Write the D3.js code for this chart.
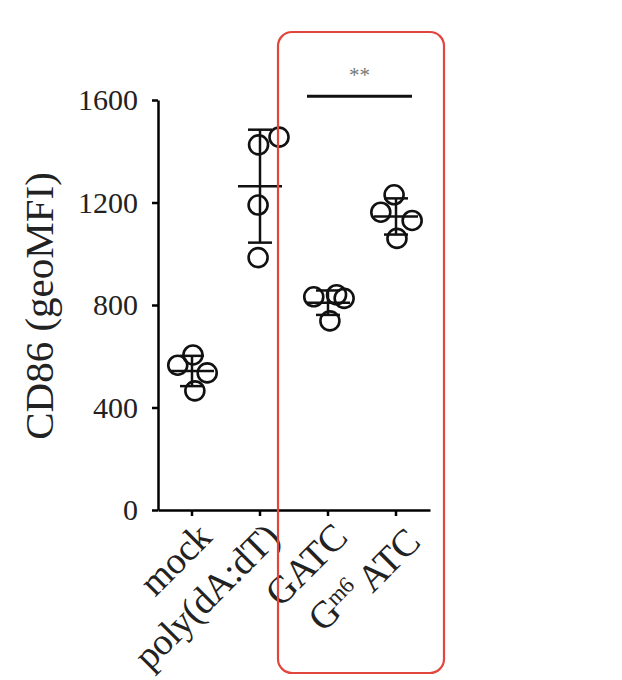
<!DOCTYPE html>
<html>
<head>
<meta charset="utf-8">
<script src="https://cdn.jsdelivr.net/npm/d3@7"></script>
<style>
  body { margin: 0; background: #fff; }
  svg { display: block; }
</style>
</head>
<body>
<div id="chart"></div>
<script>
// group names on the x axis
const categories = ["mock", "poly(dA:dT)", "GATC", "Gm6ATC"];

// CD86 geoMFI, one value per replicate
const mockValues = [605, 565, 535, 465];
const polyValues = [1455, 1425, 1190, 985];
const gatcValues = [832, 840, 826, 738];
const gm6Values  = [1230, 1162, 1130, 1060];

// sideways dodge of each dot (in dot radii), like the prism scatter layout
const mockDodge = [0.1, -1.5, 1.6, 0.3];
const polyDodge = [2.0, -0.15, -0.2, -0.2];
const gatcDodge = [-1.5, 0.9, 1.7, 0.2];
const gm6Dodge  = [-0.2, -1.6, 1.7, 0.1];

const yTicks = [0, 400, 800, 1200, 1600];
const sigPair = ["GATC", "Gm6ATC"];
const sigLevel = 1615;
const sigLabel = "**";

const groups = [
    {name: categories[0], values: mockValues, dodge: mockDodge},
    {name: categories[1], values: polyValues, dodge: polyDodge},
    {name: categories[2], values: gatcValues, dodge: gatcDodge},
    {name: categories[3], values: gm6Values, dodge: gm6Dodge}
];

var width = 622, height = 680;
var font = "'Liberation Serif', 'Times New Roman', serif";
var dotR = 9.5;

var svg = d3.select("#chart").append("svg")
    .attr("width", width)
    .attr("height", height);

var x = d3.scaleBand()
    .domain(categories)
    .range([158, 430]);

var y = d3.scaleLinear()
    .domain([0, 1600])
    .range([510, 100]);

// y axis
var yAxis = svg.append("g")
    .attr("transform", "translate(158,0)")
    .call(d3.axisLeft(y).tickValues(yTicks).tickFormat(d3.format("d"))
        .tickSize(6).tickSizeOuter(0).tickPadding(14));
yAxis.select(".domain").attr("stroke-width", 2.5);
yAxis.selectAll(".tick line").attr("stroke-width", 2.5);
yAxis.selectAll("text")
    .style("font-family", font)
    .style("font-size", "30px")
    .attr("fill", "#222");

// x axis
var xAxis = svg.append("g")
    .attr("transform", "translate(0,510)")
    .call(d3.axisBottom(x).tickSize(6).tickSizeOuter(0).tickFormat(""));
xAxis.select(".domain").attr("stroke-width", 2.5);
xAxis.selectAll(".tick line").attr("stroke-width", 2.5);

// rotated category labels
var labels = svg.append("g").selectAll("text")
    .data(categories)
    .enter()
    .append("text")
    .attr("transform", d => `translate(${x(d) + x.bandwidth() / 2 + 12}, 530) rotate(-45)`)
    .attr("text-anchor", "end")
    .attr("dy", "0.35em")
    .style("font-family", font)
    .style("font-size", "38px")
    .style("letter-spacing", "-0.5px")
    .attr("fill", "#222");

labels.each(function(d) {
    var t = d3.select(this);
    if (d === "Gm6ATC") {
        t.append("tspan").text("G");
        t.append("tspan").attr("dy", "-0.45em").style("font-size", "23px").text("m6");
        t.append("tspan").attr("dy", "0.45em").text("\u2009ATC");
    } else {
        t.text(d);
    }
});

// y title
svg.append("text")
    .attr("transform", "translate(53,306) rotate(-90)")
    .attr("text-anchor", "middle")
    .style("font-family", font)
    .style("font-size", "41px")
    .attr("fill", "#222")
    .text("CD86 (geoMFI)");

// mean +/- SD and dots
groups.forEach(function(g) {
    var cx = x(g.name) + x.bandwidth() / 2;
    var m = d3.mean(g.values), sd = d3.deviation(g.values);
    var gg = svg.append("g");

    gg.append("line")
        .attr("x1", cx).attr("x2", cx)
        .attr("y1", y(m + sd)).attr("y2", y(m - sd));
    gg.append("line")
        .attr("x1", cx - 22).attr("x2", cx + 22)
        .attr("y1", y(m)).attr("y2", y(m));
    [m + sd, m - sd].forEach(function(v) {
        gg.append("line")
            .attr("x1", cx - 12).attr("x2", cx + 12)
            .attr("y1", y(v)).attr("y2", y(v));
    });
    gg.selectAll("line")
        .attr("stroke", "#111")
        .attr("stroke-width", 2.5);

    gg.selectAll("circle")
        .data(g.values)
        .enter()
        .append("circle")
        .attr("cx", (d, i) => cx + g.dodge[i] * dotR)
        .attr("cy", d => y(d))
        .attr("r", dotR)
        .attr("fill", "none")
        .attr("stroke", "#111")
        .attr("stroke-width", 2.6);
});

// significance bar
var sx1 = x(sigPair[0]) + x.bandwidth() / 2 - 21;
var sx2 = x(sigPair[1]) + x.bandwidth() / 2 + 16;
svg.append("line")
    .attr("x1", sx1).attr("x2", sx2)
    .attr("y1", y(sigLevel)).attr("y2", y(sigLevel))
    .attr("stroke", "#111")
    .attr("stroke-width", 3);
svg.append("text")
    .attr("x", (sx1 + sx2) / 2)
    .attr("y", y(sigLevel) - 14)
    .attr("text-anchor", "middle")
    .style("font-family", font)
    .style("font-size", "21px")
    .attr("fill", "#777")
    .text(sigLabel);

// red highlight box round the two DNA groups
svg.append("rect")
    .attr("x", 278).attr("y", 32)
    .attr("width", 166).attr("height", 641)
    .attr("rx", 14)
    .attr("fill", "none")
    .attr("stroke", "#e2453c")
    .attr("stroke-width", 2.2);
</script>
</body>
</html>
